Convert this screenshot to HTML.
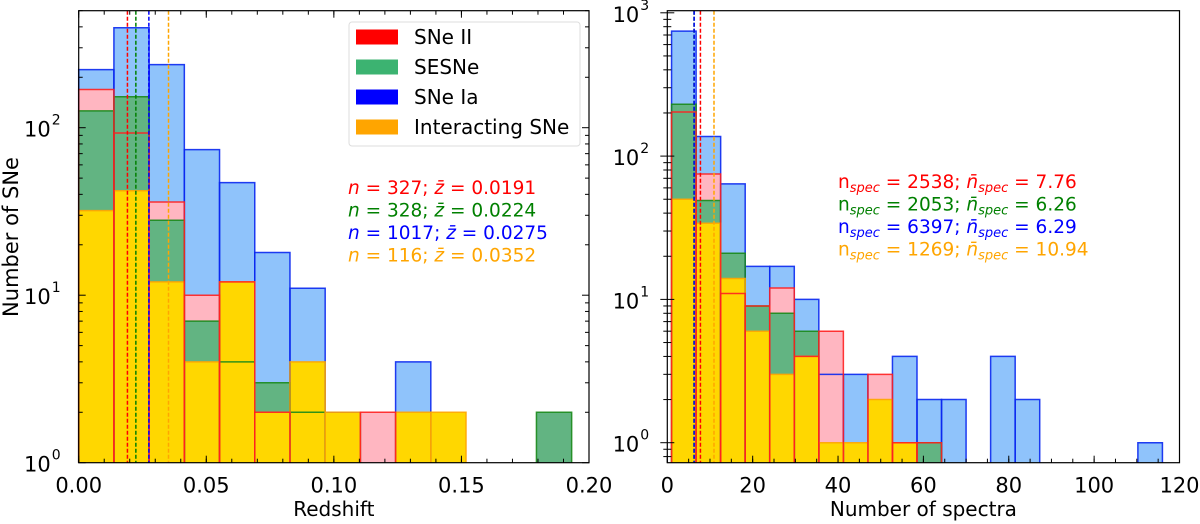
<!DOCTYPE html>
<html><head><meta charset="utf-8">
<style>
html,body{margin:0;padding:0;background:#fff;}
svg{display:block;font-family:"DejaVu Sans","Liberation Sans",sans-serif;}
</style></head>
<body>
<svg id="chart" width="1200" height="524" viewBox="0 0 1200 524" xmlns="http://www.w3.org/2000/svg"></svg>
<script>
// ---- Left panel data (redshift) ----
const zBinStart = 0, zBinWidth = 0.0138;
const zIa   = [222, 395, 238, 74, 47, 18, 11, 2, 0, 4, 0, 0, 0, 0];
const zII   = [169, 93, 36, 10, 12, 2, 0, 0, 2, 0, 0, 0, 0, 0];
const zSE   = [126, 153, 28, 7, 4, 3, 2, 0, 0, 0, 0, 0, 0, 2];
const zInt  = [32, 42, 12, 4, 12, 2, 4, 2, 0, 2, 2, 0, 0, 0];
const zMeans = [0.0191, 0.0224, 0.0275, 0.0352];
const zXTicks = [0.00, 0.05, 0.10, 0.15, 0.20];
const zXTickLabels = ["0.00", "0.05", "0.10", "0.15", "0.20"];
const zAnnot = ["327", "0.0191", "328", "0.0224", "1017", "0.0275", "116", "0.0352"];
// ---- Right panel data (number of spectra) ----
const sBinStart = 1, sBinWidth = 5.75;
const sIa  = [745, 137, 64, 17, 17, 10, 3, 3, 0, 4, 2, 2, 0, 4, 2, 0, 0, 0, 0, 1];
const sII  = [203, 75, 11, 9, 12, 4, 6, 0, 3, 1, 1, 0, 0, 0, 0, 0, 0, 0, 0, 0];
const sSE  = [230, 49, 21, 9, 8, 6, 0, 0, 0, 0, 1, 0, 0, 0, 0, 0, 0, 0, 0, 0];
const sInt = [50, 34, 14, 6, 3, 4, 1, 1, 2, 1, 0, 0, 0, 0, 0, 0, 0, 0, 0, 0];
const sMeans = [7.76, 6.26, 6.29, 10.94];
const sXTicks = [0, 20, 40, 60, 80, 100, 120];
const sAnnot = ["2538", "7.76", "2053", "6.26", "6397", "6.29", "1269", "10.94"];

const NS = "http://www.w3.org/2000/svg";
const svg = document.getElementById("chart");
function mk(tag, attrs, parent) {
  const e = document.createElementNS(NS, tag);
  for (const k in attrs) e.setAttribute(k, attrs[k]);
  (parent || svg).appendChild(e);
  return e;
}
const fills = ["#8fc3fb", "#ffb6c1", "#62b482", "#ffd700"];
const edges = ["#0a28f0", "#ff2020", "#1a8a1a", "#ffa500"];
const lineCols = ["#ff0000", "#008000", "#0000ff", "#ffa500"];
const seriesNames = ["ia", "ii", "sesne", "interacting"];

function panel(o) {
  const g = mk("g", {});
  
  
  const xs = v => o.x0 + (v - o.xmin) / (o.xmax - o.xmin) * (o.x1 - o.x0);
  const ys = v => o.ybase - Math.log10(v) * o.dec;
  const yBottom = o.y1;
  const series = o.series;
  series.forEach((arr, si) => {
    arr.forEach((v, i) => {
      if (v <= 0) return;
      const a = xs(o.bs + i * o.bw), b = xs(o.bs + (i + 1) * o.bw);
      const r = mk("rect", {x: a, y: ys(v), width: b - a, height: yBottom - ys(v), fill: fills[si]}, g);
      
      
    });
  });
  [0, 2, 3, 1].forEach(si => {
    series[si].forEach((v, i) => {
      if (v <= 0) return;
      const a = xs(o.bs + i * o.bw), b = xs(o.bs + (i + 1) * o.bw);
      mk("path", {d: `M${a},${yBottom}V${ys(v)}H${b}V${yBottom}`, fill: "none", stroke: edges[si], "stroke-width": 1.5, opacity: 0.9}, g);
    });
  });
  o.means.forEach((m, i) => {
    const l = mk("line", {x1: xs(m), x2: xs(m), y1: o.y0, y2: o.y1, stroke: lineCols[i], "stroke-width": 1.5, "stroke-dasharray": "4,2"}, g);
    
    
  });
  mk("rect", {x: o.x0, y: o.y0, width: o.x1 - o.x0, height: o.y1 - o.y0, fill: "none", stroke: "#000", "stroke-width": 1.2}, g);
  o.xt.forEach((t, i) => {
    const x = xs(t);
    mk("line", {x1: x, x2: x, y1: o.y1, y2: o.y1 - 7, stroke: "#000"}, g);
    if (o.topTicks) mk("line", {x1: x, x2: x, y1: o.y0, y2: o.y0 + 7, stroke: "#000"}, g);
    const tx = mk("text", {x: x, y: o.y1 + 30, "font-size": 21, "text-anchor": "middle"}, g);
    tx.textContent = o.xtl[i];
    
    
  });
  for (let t = o.xmin; t <= o.xmax + 1e-9; t += o.minor) {
    const x = xs(t);
    mk("line", {x1: x, x2: x, y1: o.y1, y2: o.y1 - 4, stroke: "#000"}, g);
    if (o.topTicks) mk("line", {x1: x, x2: x, y1: o.y0, y2: o.y0 + 4, stroke: "#000"}, g);
  }
  for (let d = -1; d <= 3; d++) {
    for (let m = 1; m <= 9; m++) {
      const v = m * Math.pow(10, d);
      const y = ys(v);
      if (y < o.y0 - 2.5 || y > o.y1 + 0.5) continue;
      const len = m === 1 ? 7 : 4;
      mk("line", {x1: o.x0, x2: o.x0 + len, y1: y, y2: y, stroke: "#000"}, g);
      if (o.rightTicks) mk("line", {x1: o.x1, x2: o.x1 - len, y1: y, y2: y, stroke: "#000"}, g);
      if (o.outTicks) mk("line", {x1: o.x0, x2: o.x0 - len, y1: y, y2: y, stroke: "#000"}, g);
      if (m === 1) {
        const tx = mk("text", {x: o.x0 - 28, y: y + 9, "font-size": 21, "text-anchor": "end"}, g);
        tx.textContent = "10";
        
        
        const sp = mk("text", {x: o.x0 - 27, y: y - 3, "font-size": 14}, g);
        sp.textContent = String(d);
      }
    }
  }
  const xl = mk("text", {x: (o.x0 + o.x1) / 2, y: 516, "font-size": 20, "text-anchor": "middle"}, g);
  xl.textContent = o.xlabel;
  
  
  return {g, xs, ys};
}

panel({name: "redshift-panel", x0: 78.7, x1: 589, y0: 10.7, y1: 462.7, xmin: 0, xmax: 0.2,
  ybase: 462.7, dec: 167.5, bs: zBinStart, bw: zBinWidth, series: [zIa, zII, zSE, zInt],
  means: zMeans, xt: zXTicks, xtl: zXTickLabels, minor: 0.01, topTicks: true, rightTicks: true,
  xlabel: "Redshift"});
panel({name: "spectra-panel", x0: 667.3, x1: 1179.5, y0: 10.7, y1: 462.7, xmin: 0, xmax: 120,
  ybase: 442.7, dec: 143.3, bs: sBinStart, bw: sBinWidth, series: [sIa, sII, sSE, sInt],
  means: sMeans, xt: sXTicks, xtl: sXTicks.map(String), minor: 5, topTicks: false, rightTicks: false, outTicks: true,
  xlabel: "Number of spectra"});

const yl = mk("text", {x: 0, y: 0, "font-size": 21, "text-anchor": "middle", transform: "translate(18,237) rotate(-90)"});
yl.textContent = "Number of SNe";



const lg = mk("g", {});


mk("rect", {x: 349, y: 22, width: 231, height: 124, rx: 3, fill: "#fff", stroke: "#ddd"}, lg);
const legNames = ["SNe II", "SESNe", "SNe Ia", "Interacting SNe"];
const legCols = ["#ff0000", "#3cb371", "#0000ff", "#ffa500"];
legNames.forEach((n, i) => {
  const cy = 37 + i * 30;
  const e = mk("rect", {x: 356, y: cy - 7.5, width: 42, height: 15, fill: legCols[i]}, lg);
  
  
  const t = mk("text", {x: 414, y: cy + 7, "font-size": 20}, lg);
  t.textContent = n;
  
  
});

const annCols = ["#ff0000", "#008000", "#0000ff", "#ffa500"];
for (let i = 0; i < 4; i++) {
  const t = mk("text", {x: 348, y: 194 + i * 22.5, "font-size": 18.5, fill: annCols[i]});
  
  
  t.innerHTML = `<tspan font-style="italic">n</tspan> = ${zAnnot[2*i]}; <tspan font-style="italic">z̄</tspan> = ${zAnnot[2*i+1]}`;
  const u = mk("text", {x: 838, y: 188 + i * 22.5, "font-size": 18.5, fill: annCols[i]});
  
  
  u.innerHTML = `n<tspan font-size="13" font-style="italic" dy="4">spec</tspan><tspan dy="-4"> = ${sAnnot[2*i]}; </tspan><tspan font-style="italic">n̄</tspan><tspan font-size="13" font-style="italic" dy="4">spec</tspan><tspan dy="-4"> = ${sAnnot[2*i+1]}</tspan>`;
}
</script>
</body></html>
